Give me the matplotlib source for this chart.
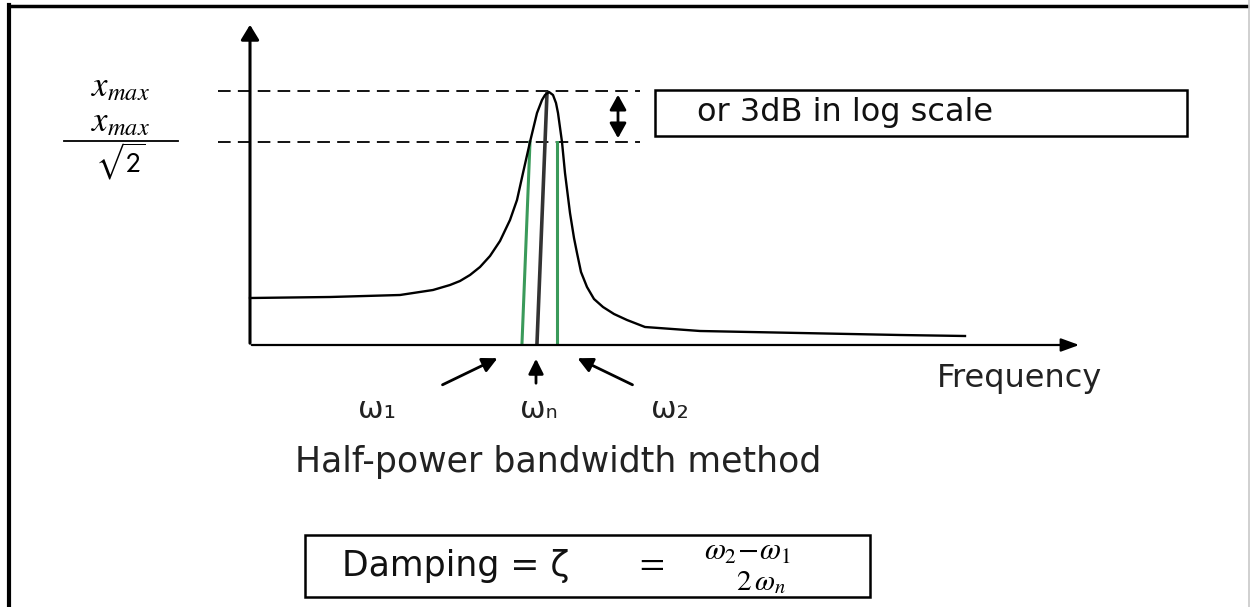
import numpy as np
import matplotlib.pyplot as plt
from matplotlib.patches import Rectangle

plt.rcParams['mathtext.fontset'] = 'stix'

# curva de respuesta (coordenadas del dibujo, en px)
curva_x = [250, 330, 400, 433, 450, 460, 470, 480, 490, 500, 510, 517,
           523, 530, 537, 542, 545, 549, 553, 556, 558, 562, 565, 570, 574, 577, 581,
           587, 594, 603, 614, 627, 645, 700, 800, 900, 965]
curva_y = [298, 297, 295, 290, 285, 281, 275, 267, 256, 241, 220, 200,
           173, 142, 113, 100, 95, 92, 95, 103, 113, 142, 173, 213, 238, 253, 272,
           287, 299, 307, 314, 320, 327, 331, 333, 335, 336]

y_max = 91          # x_max
y_media = 142       # x_max / sqrt(2)
eje_x0, eje_y0 = 250, 345

# líneas verticales: (x arriba, y arriba, x abajo)
verde_izq = (530, y_media, 522)
verde_der = (557, y_media, 557)
linea_wn = (547, 93, 537)

etiquetas_w = ['ω₁', 'ωₙ', 'ω₂']
pos_etiquetas_w = [377, 539, 670]
flechas_w = [((440, 386), (500, 357)), ((536, 386), (536, 356)), ((635, 386), (575, 357))]

fig = plt.figure(figsize=(12.5, 6.07), dpi=100)
ax = fig.add_axes([0, 0, 1, 1])
ax.set_xlim(0, 1250)
ax.set_ylim(607, 0)
ax.axis('off')

# marco
ax.plot([9, 9], [5, 607], color='black', lw=3)
ax.plot([9, 1247], [6, 6], color='black', lw=2.5)
ax.plot([1249, 1249], [0, 607], color='#c8c8c8', lw=1.2)

# ejes con flechas
ax.annotate('', xy=(eje_x0, 22), xytext=(eje_x0, eje_y0 + 1),
            arrowprops=dict(arrowstyle='-|>,head_length=0.9,head_width=0.55', color='black', lw=2.2))
ax.annotate('', xy=(1082, eje_y0), xytext=(eje_x0 - 1, eje_y0),
            arrowprops=dict(arrowstyle='-|>,head_length=1.1,head_width=0.4', color='black', lw=1.6))

# líneas discontinuas
for yy in [y_max, y_media]:
    ax.plot([218, 640], [yy, yy], color='black', lw=1.3, dashes=(7, 4))

# líneas verdes y central
for (xa, ya, xb), col, w in [(verde_izq, '#3a9a5a', 2.2), (verde_der, '#3a9a5a', 2.2),
                             (linea_wn, '#333333', 2.6)]:
    ax.plot([xa, xb], [ya, eje_y0 - 2], color=col, lw=w)

# curva
ax.plot(curva_x, curva_y, color='black', lw=1.7, solid_joinstyle='round')

# doble flecha 3 dB
ax.annotate('', xy=(618, y_max + 1), xytext=(618, y_media - 1),
            arrowprops=dict(arrowstyle='<|-|>,head_length=0.9,head_width=0.5', color='black', lw=2))

# cuadro "or 3dB in log scale"
ax.add_patch(Rectangle((655, 90), 532, 46, fill=False, ec='black', lw=1.8))
ax.text(697, 113, 'or 3dB in log scale', fontsize=23, family='DejaVu Sans',
        va='center', ha='left', color='#111111')

# etiquetas del eje y
ax.text(120, 96, r'$x_{max}$', fontsize=25, ha='center', va='baseline')
ax.text(120, 131, r'$x_{max}$', fontsize=25, ha='center', va='baseline')
ax.plot([64, 178], [141, 141], color='black', lw=1.3)
ax.text(120, 172, r'$\sqrt{2}$', fontsize=21, ha='center', va='baseline',
        math_fontfamily='stixsans')

# flechas hacia ω
for (cola, punta) in flechas_w:
    ax.annotate('', xy=punta, xytext=cola,
                arrowprops=dict(arrowstyle='-|>,head_length=0.9,head_width=0.45', color='black', lw=2))
for etq, px in zip(etiquetas_w, pos_etiquetas_w):
    ax.text(px, 410, etq, fontsize=22, family='DejaVu Sans', ha='center', va='center', color='#222222')

ax.text(1020, 378, 'Frequency', fontsize=23, family='DejaVu Sans', ha='center', va='center', color='#222222')
ax.text(558, 462, 'Half-power bandwidth method', fontsize=25, family='DejaVu Sans',
        ha='center', va='center', color='#222222')

# cuadro del amortiguamiento
ax.add_patch(Rectangle((305, 535), 565, 62, fill=False, ec='black', lw=1.8))
ax.text(342, 566, 'Damping = ζ', fontsize=25, family='DejaVu Sans',
        ha='left', va='center', color='#111111')
ax.text(649, 562, r'$=$', fontsize=26, ha='center', va='center')
ax.text(747, 560, r'$\omega_2\!-\!\omega_1$', fontsize=22, ha='center', va='baseline')
ax.text(761, 590, r'$2\,\omega_n$', fontsize=21, ha='center', va='baseline')

fig.savefig('out.png', dpi=100)
